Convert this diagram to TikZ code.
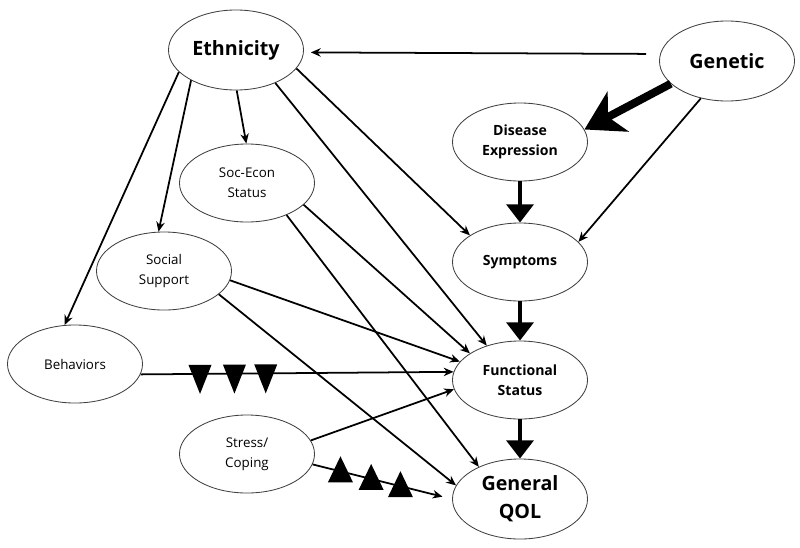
\documentclass[tikz,border=0pt]{standalone}
\usepackage{fontspec}
\setmainfont{Open Sans}
\usepackage{tikz}
\usetikzlibrary{positioning}
\usetikzlibrary{shapes, arrows.meta, calc}
\tikzstyle{minor} = [ellipse, draw=black!75, line width=0.6pt, minimum width=3.375cm, minimum height=1.95cm, inner sep=0pt, align=center, font=\fontsize{9.5}{14}\selectfont]
\tikzstyle{major} = [minor, font=\bfseries\fontsize{10}{14}\selectfont]
\tikzstyle{big} = [minor, minimum height=2cm, font=\bfseries\fontsize{14}{20}\selectfont]
\tikzstyle{arrow} = [line width=1.25pt, -{Stealth[length=7pt,width=6pt]}]
\tikzstyle{fat} = [line width=3.5pt, -{Triangle[length=13pt,width=19pt]}]
\tikzset{
  tri down/.pic={\fill (-11.5,-9) -- (11.5,-9) -- (0,20) -- cycle;},
  tri up/.pic={\fill (-12.5,11) -- (12.5,11) -- (0,-15) -- cycle;}
}

\begin{document}
\begin{tikzpicture}[x=0.025cm, y=-0.025cm]
    \useasboundingbox (0,0) rectangle (800,547);
    % variables
    \node[big] (eth) at (236,50) {Ethnicity};
    \node[big] (gen) at (727,61) {Genetic};
    \node[major] (dis) at (520,142) {Disease\\Expression};
    \node[minor] (soc) at (247,183) {Soc-Econ\\Status};
    \node[major] (sym) at (520,262) {Symptoms};
    \node[minor] (sup) at (164,271) {Social\\Support};
    \node[minor] (beh) at (75,364) {Behaviors};
    \node[major] (fun) at (520,380) {Functional\\Status};
    \node[minor] (str) at (247,454) {Stress/\\Coping};
    \node[big] (qol) at (520,499) {General\\QOL};
    % genetic paths
    \draw[arrow, shorten <=10pt, shorten >=5pt] (gen.174) -- (eth.358);
    \draw[line width=5.7pt, -{Stealth[length=27pt,width=32pt,inset=8pt]}] (gen.202) -- (dis.11);
    \draw[arrow] (gen.235) -- (sym.19);
    \draw[fat] (dis.south) -- (sym.north);
    \draw[fat] (sym.south) -- (fun.north);
    \draw[fat] (fun.south) -- (qol.north);
    % ethnicity paths
    \draw[arrow] (eth.201) -- (beh.105);
    \draw[arrow] (eth.214) -- (sup.98);
    \draw[arrow] (eth.271) -- (soc.91);
    \draw[arrow] (eth.343) -- (sym.152);
    \draw[arrow] (eth.320) -- (fun.134);
    % social paths
    \draw[arrow] (soc.339) -- (fun.152);
    \draw[arrow] (soc.321) -- (qol.142);
    \draw[arrow] (sup.352) -- (fun.163);
    \draw[arrow] (sup.337) -- (qol.168);
    \draw[arrow] (beh.351) -- (fun.173);
    \draw[arrow] (str.12) -- (fun.188);
    \draw[arrow, shorten >=7pt] (str.351) -- (qol.180);
    % moderators
    \foreach \p in {.19,.30,.40}
        \pic at ($(beh.351)!\p!(fun.173)$) {tri down};
    \foreach \p in {.20,.42,.63}
        \pic at ($(str.351)!\p!(qol.180)$) {tri up};
\end{tikzpicture}
\end{document}
